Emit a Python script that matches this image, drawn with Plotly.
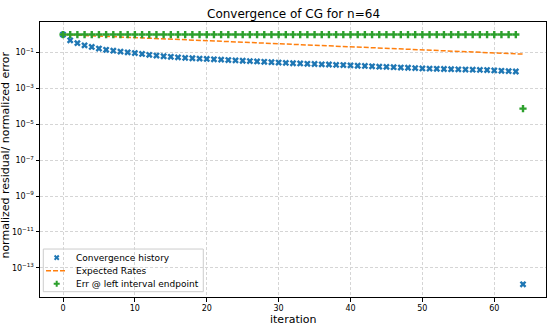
import plotly.graph_objects as go

# iteration numbers
iterations = list(range(65))

# normalized residual per iteration
residual = [
    1.0, 0.479, 0.331, 0.251, 0.204, 0.166, 0.141, 0.126, 0.112, 0.102,
    0.0933, 0.0832, 0.0741, 0.0676, 0.0617, 0.0575, 0.0537, 0.0501, 0.0479, 0.0457,
    0.0437, 0.0417, 0.0398, 0.0380, 0.0363, 0.0347, 0.0331, 0.0316, 0.0302, 0.0288,
    0.0275, 0.0263, 0.0251, 0.0245, 0.0234, 0.0229, 0.0219, 0.0214, 0.0204, 0.0200,
    0.0191, 0.0182, 0.0178, 0.0170, 0.0162, 0.0158, 0.0151, 0.0145, 0.0141, 0.0135,
    0.0129, 0.0126, 0.0123, 0.0120, 0.0117, 0.0115, 0.0112, 0.0110, 0.0107, 0.0105,
    0.0100, 0.00955, 0.00912, 0.00871, 1.2e-14,
]

# expected rate line (straight on log scale)
rate_iters = [0, 64]
rate_vals = [1.0, 0.081]

# normalized error at left interval endpoint
err_left = [
    1.0, 1.0, 1.0, 1.0, 1.0, 1.0, 1.0, 1.0, 1.0, 1.0,
    1.0, 1.0, 1.0, 1.0, 1.0, 1.0, 1.0, 1.0, 1.0, 1.0,
    1.0, 1.0, 1.0, 1.0, 1.0, 1.0, 1.0, 1.0, 1.0, 1.0,
    1.0, 1.0, 1.0, 1.0, 1.0, 1.0, 1.0, 1.0, 1.0, 1.0,
    1.0, 1.0, 1.0, 1.0, 1.0, 1.0, 1.0, 1.0, 1.0, 1.0,
    1.0, 1.0, 1.0, 1.0, 1.0, 1.0, 1.0, 1.0, 1.0, 1.0,
    1.0, 1.0, 1.0, 1.0, 7.4e-5,
]

xtick_vals = [0, 10, 20, 30, 40, 50, 60]
ytick_exp = [-13, -11, -9, -7, -5, -3, -1]
ytick_vals = [10.0 ** e for e in ytick_exp]
ytick_text = [f"10<sup>\u2212{-e}</sup>" for e in ytick_exp]

legend_labels = ['Convergence history', 'Expected Rates', 'Err @ left interval endpoint']

BLUE, ORANGE, GREEN = '#1f77b4', '#ff7f0e', '#2ca02c'

fig = go.Figure()

fig.add_trace(go.Scatter(
    x=iterations, y=residual, mode='markers', name=legend_labels[0],
    marker=dict(symbol='x', size=6, color=BLUE, line=dict(width=0)),
))
fig.add_trace(go.Scatter(
    x=rate_iters, y=rate_vals, mode='lines', name=legend_labels[1],
    line=dict(color=ORANGE, width=1.5, dash='5px,2px'),
))
fig.add_trace(go.Scatter(
    x=iterations, y=err_left, mode='markers', name=legend_labels[2],
    marker=dict(symbol='cross', size=6, color=GREEN, line=dict(width=0)),
))

# hand-made legend (plotly's own legend rows are too tall)
row_y = [0.143, 0.0955, 0.048]
fig.add_shape(type='rect', xref='paper', yref='paper', x0=0.0065, x1=0.3227, y0=0.0193, y1=0.1744,
              line=dict(color='#cccccc', width=1), fillcolor='rgba(255,255,255,0.8)', layer='between')
fig.add_trace(go.Scatter(x=[0.033], y=[row_y[0]], xaxis='x2', yaxis='y2', mode='markers',
                         marker=dict(symbol='x', size=5, color=BLUE, line=dict(width=0)), hoverinfo='skip'))
fig.add_trace(go.Scatter(x=[0.0119, 0.0494], y=[row_y[1], row_y[1]], xaxis='x2', yaxis='y2', mode='lines',
                         line=dict(color=ORANGE, width=1.5, dash='5px,2px'), hoverinfo='skip'))
fig.add_trace(go.Scatter(x=[0.033], y=[row_y[2]], xaxis='x2', yaxis='y2', mode='markers',
                         marker=dict(symbol='cross', size=5, color=GREEN, line=dict(width=0)), hoverinfo='skip'))
for label, ry in zip(legend_labels, row_y):
    fig.add_annotation(x=0.0678, y=ry, xref='paper', yref='paper', text=label, showarrow=False,
                       xanchor='left', yanchor='middle', font=dict(size=9))

axis_style = dict(
    showline=True, linecolor='black', linewidth=1, mirror=True,
    ticks='outside', ticklen=3.5, tickcolor='black',
    showgrid=True, gridcolor='#d5d5d5', gridwidth=0.8, griddash='3px,2px',
    zeroline=False, tickfont=dict(size=8, color='black'), automargin=False,
)

fig.update_layout(
    width=555, height=333,
    margin=dict(l=40, r=9, t=22, b=36),
    paper_bgcolor='white', plot_bgcolor='white',
    font=dict(family='DejaVu Sans', color='black'),
    showlegend=False,
    xaxis=dict(range=[-3.2, 67.2], tickvals=xtick_vals, **axis_style),
    yaxis=dict(type='log', range=[-14.63, 0.70], tickvals=ytick_vals, ticktext=ytick_text, **axis_style),
    xaxis2=dict(overlaying='x', range=[0, 1], visible=False),
    yaxis2=dict(overlaying='y', range=[0, 1], visible=False),
)

# titles as annotations for exact placement
fig.add_annotation(x=0.5, y=1.0305, xref='paper', yref='paper', text='Convergence of CG for n=64',
                   showarrow=False, xanchor='center', yanchor='middle', font=dict(size=12))
fig.add_annotation(x=0.5, y=-0.082, xref='paper', yref='paper', text='iteration',
                   showarrow=False, xanchor='center', yanchor='middle', font=dict(size=11))
fig.add_annotation(x=-0.0682, y=0.516, xref='paper', yref='paper', text='normalized residual/ normalized error',
                   showarrow=False, xanchor='center', yanchor='middle', textangle=-90, font=dict(size=11))

# drop the browser's default body margin so the figure sits at the window corner
fig.write_html("out.html", config={'displayModeBar': False},
               post_script="document.body.style.margin='0';document.body.style.overflow='hidden';")
